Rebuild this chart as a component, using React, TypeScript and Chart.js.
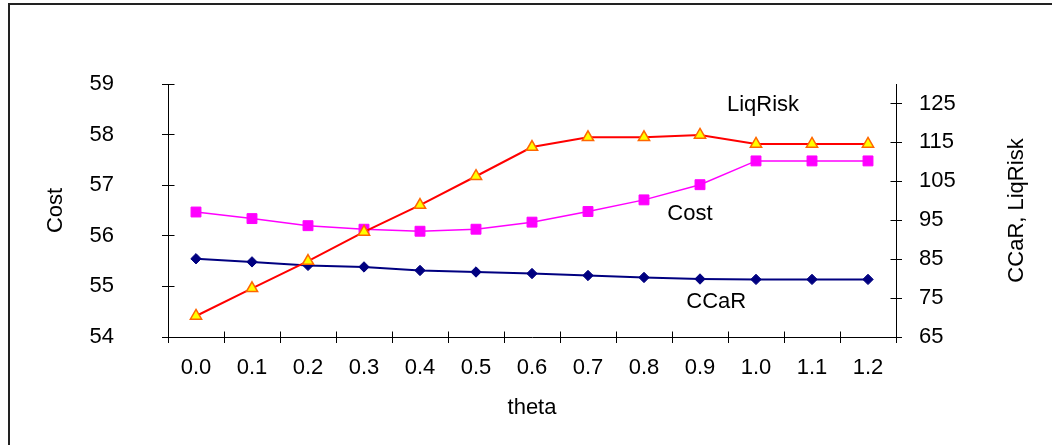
import React, { useEffect, useRef } from "react";
import { Chart, registerables } from "chart.js";

Chart.register(...registerables);

const categories = ["0.0", "0.1", "0.2", "0.3", "0.4", "0.5", "0.6", "0.7", "0.8", "0.9", "1.0", "1.1", "1.2"];
const costValues = [56.47, 56.34, 56.2, 56.13, 56.09, 56.13, 56.27, 56.48, 56.71, 57.01, 57.48, 57.48, 57.48];
const ccarValues = [85.1, 84.3, 83.4, 83.0, 82.1, 81.7, 81.3, 80.8, 80.3, 79.9, 79.8, 79.8, 79.8];
const liqRiskValues = [70.4, 77.5, 84.5, 92.0, 98.9, 106.3, 113.8, 116.3, 116.3, 116.9, 114.6, 114.6, 114.6];

const leftTicks = [54, 55, 56, 57, 58, 59];
const rightTicks = [65, 75, 85, 95, 105, 115, 125];
const leftRange = [54, 59];
const rightRange = [65, 130];

const xTitle = "theta";
const leftTitle = "Cost";
const rightTitle = "CCaR, LiqRisk";

// in-chart series labels, placed in data coordinates (category index, axis value)
const seriesLabels = [
  { text: "LiqRisk", x: 10.125, y: 124.6, axis: "y1" },
  { text: "Cost", x: 8.82, y: 56.43, axis: "y" },
  { text: "CCaR", x: 9.29, y: 73.9, axis: "y1" },
];

const FONT = "'Liberation Sans', Arial, Helvetica, sans-serif";
const FONT_SIZE = 22;

const align = (p: number) => Math.round(p - 0.5) + 0.5;

const extrasPlugin = {
  id: "extras",
  afterDraw(chart: any) {
    const { ctx, chartArea, scales } = chart;
    const xs = scales.x;
    const ys = scales.y;
    const y1s = scales.y1;
    ctx.save();
    ctx.strokeStyle = "#000";
    ctx.lineWidth = 1;
    ctx.beginPath();
    const tl = 6;
    const b = align(chartArea.bottom);
    for (let i = 0; i <= categories.length; i++) {
      const px = align(xs.getPixelForValue(i - 0.5));
      ctx.moveTo(px, b);
      ctx.lineTo(px, b - tl);
    }
    const l = align(chartArea.left);
    ys.ticks.forEach((t: any) => {
      const py = align(ys.getPixelForValue(t.value));
      ctx.moveTo(l, py);
      ctx.lineTo(l + tl, py);
    });
    const r = align(chartArea.right);
    y1s.ticks.forEach((t: any) => {
      const py = align(y1s.getPixelForValue(t.value));
      ctx.moveTo(r, py);
      ctx.lineTo(r - tl, py);
    });
    ctx.stroke();

    ctx.fillStyle = "#000";
    ctx.font = `${FONT_SIZE}px ${FONT}`;
    ctx.textAlign = "center";
    ctx.textBaseline = "middle";

    // right axis title, reading bottom to top
    ctx.save();
    ctx.translate(chartArea.right + 121, (chartArea.top + chartArea.bottom) / 2);
    ctx.rotate(-Math.PI / 2);
    ctx.fillText(rightTitle, 0, 0);
    ctx.restore();

    seriesLabels.forEach((lab) => {
      const px = xs.getPixelForValue(lab.x);
      const py = scales[lab.axis].getPixelForValue(lab.y);
      ctx.fillText(lab.text, px, py);
    });
    ctx.restore();
  },
};

export default function App() {
  const canvasRef = useRef<HTMLCanvasElement | null>(null);

  useEffect(() => {
    if (!canvasRef.current) return;
    Chart.defaults.font.family = FONT;
    Chart.defaults.font.size = FONT_SIZE;
    Chart.defaults.color = "#000";

    const chart = new Chart(canvasRef.current, {
      type: "line",
      data: {
        labels: categories,
        datasets: [
          {
            label: "LiqRisk",
            data: liqRiskValues,
            yAxisID: "y1",
            borderColor: "#FF0000",
            borderWidth: 2,
            pointStyle: "triangle",
            pointRadius: 6.5,
            pointBackgroundColor: "#FFFF00",
            pointBorderColor: "#FF6600",
            pointBorderWidth: 1.5,
            tension: 0,
            fill: false,
          },
          {
            label: "Cost",
            data: costValues,
            yAxisID: "y",
            borderColor: "#FF00FF",
            borderWidth: 1.5,
            pointStyle: "rect",
            pointRadius: 7,
            pointBackgroundColor: "#FF00FF",
            pointBorderColor: "#FF00FF",
            pointBorderWidth: 1,
            tension: 0,
            fill: false,
          },
          {
            label: "CCaR",
            data: ccarValues,
            yAxisID: "y1",
            borderColor: "#000080",
            borderWidth: 2,
            pointStyle: "rectRot",
            pointRadius: 5.2,
            pointBackgroundColor: "#000080",
            pointBorderColor: "#000080",
            pointBorderWidth: 1,
            tension: 0,
            fill: false,
          },
        ],
      },
      options: {
        animation: false,
        responsive: false,
        maintainAspectRatio: false,
        layout: { padding: { top: 84, left: 0, right: 0, bottom: 0 } },
        plugins: {
          legend: { display: false },
          tooltip: { enabled: false },
        },
        scales: {
          x: {
            type: "category",
            offset: true,
            grid: {
              display: true,
              offset: true,
              drawOnChartArea: false,
              drawTicks: true,
              tickLength: 6,
              color: "#000",
              lineWidth: 1,
            },
            border: { display: true, color: "#000", width: 1 },
            ticks: { padding: 12, autoSkip: false, maxRotation: 0, color: "#000", font: { size: FONT_SIZE } },
            title: { display: true, text: xTitle, padding: { top: 0, bottom: 24 }, color: "#000", font: { size: FONT_SIZE } },
            afterFit: (scale: any) => {
              scale.height = 108;
            },
          },
          y: {
            type: "linear",
            position: "left",
            min: leftRange[0],
            max: leftRange[1],
            afterBuildTicks: (scale: any) => {
              scale.ticks = leftTicks.map((v) => ({ value: v }));
            },
            grid: {
              display: true,
              drawOnChartArea: false,
              drawTicks: true,
              tickLength: 6,
              color: "#000",
              lineWidth: 1,
            },
            border: { display: true, color: "#000", width: 1 },
            ticks: { padding: 48, color: "#000", font: { size: FONT_SIZE } },
            title: { display: true, text: leftTitle, padding: { top: 43, bottom: 0 }, color: "#000", font: { size: FONT_SIZE } },
            afterFit: (scale: any) => {
              scale.width = 168;
            },
          },
          y1: {
            type: "linear",
            position: "right",
            min: rightRange[0],
            max: rightRange[1],
            afterBuildTicks: (scale: any) => {
              scale.ticks = rightTicks.map((v) => ({ value: v }));
            },
            grid: {
              display: true,
              drawOnChartArea: false,
              drawTicks: true,
              tickLength: 6,
              color: "#000",
              lineWidth: 1,
            },
            border: { display: true, color: "#000", width: 1 },
            ticks: { padding: 17, color: "#000", font: { size: FONT_SIZE } },
            title: { display: false },
            afterFit: (scale: any) => {
              scale.width = 156;
            },
          },
        },
      } as any,
      plugins: [extrasPlugin],
    });

    return () => {
      chart.destroy();
    };
  }, []);

  return (
    <div
      style={{
        position: "fixed",
        left: 0,
        top: 0,
        width: 1052,
        height: 445,
        background: "#fff",
        overflow: "hidden",
      }}
    >
      <div
        style={{
          position: "absolute",
          left: 8,
          top: 3,
          width: 1100,
          height: 500,
          borderTop: "2px solid #222",
          borderLeft: "2px solid #222",
        }}
      />
      <canvas
        ref={canvasRef}
        width={1052}
        height={445}
        style={{ position: "absolute", left: 0, top: 0, width: 1052, height: 445 }}
      />
    </div>
  );
}
